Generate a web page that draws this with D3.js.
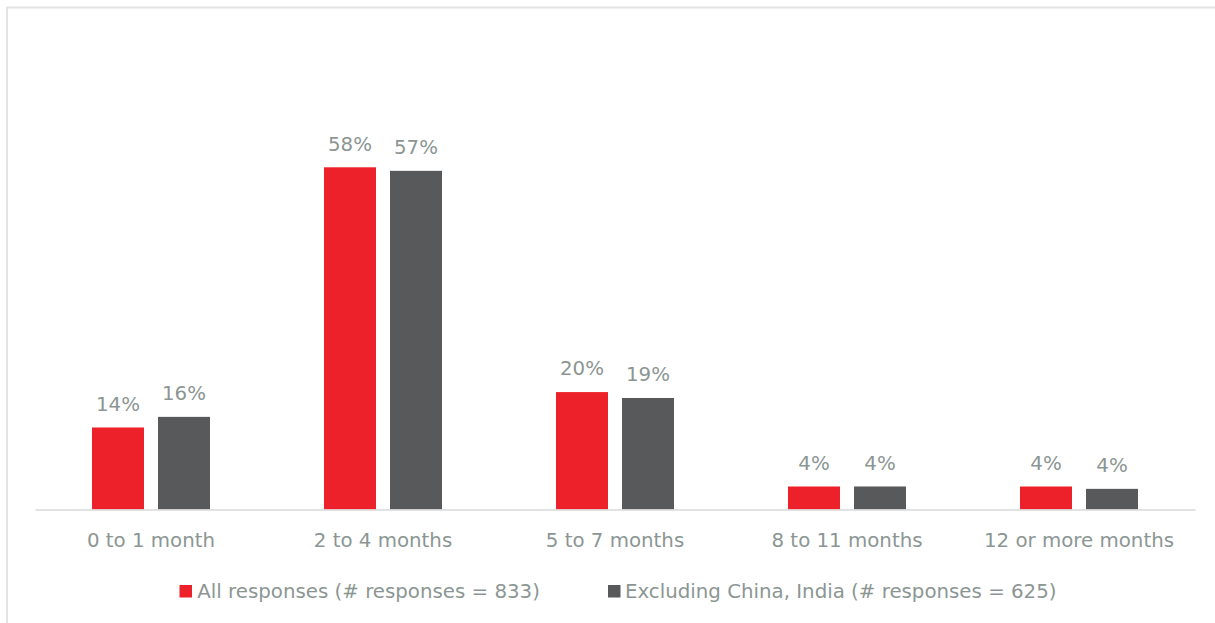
<!DOCTYPE html>
<html><head><meta charset="utf-8">
<script src="https://cdn.jsdelivr.net/npm/d3@7/dist/d3.min.js"></script>
<style>html,body{margin:0;padding:0;background:#fff;}svg{display:block;}</style>
</head><body>
<script>
const categories = ["0 to 1 month", "2 to 4 months", "5 to 7 months", "8 to 11 months", "12 or more months"];
const seriesNames = ["All responses (# responses = 833)", "Excluding China, India (# responses = 625)"];
const allResponses = [13.9, 58.0, 19.9, 3.9, 3.9];
const exclChinaIndia = [15.7, 57.4, 18.9, 3.9, 3.5];
const labelsAll = ["14%", "58%", "20%", "4%", "4%"];
const labelsExcl = ["16%", "57%", "19%", "4%", "4%"];
const colors = ["#ec2129", "#58595b"];

const W = 1215, H = 623;
const svg = d3.select("body").append("svg").attr("width", W).attr("height", H);

svg.append("rect").attr("x", 7).attr("y", 7.5).attr("width", 1400).attr("height", 800)
  .attr("fill", "none").attr("stroke", "#e3e3e3").attr("stroke-width", 2);

const x = d3.scaleBand().domain(categories).range([35, 1195]);
const y = d3.scaleLinear().domain([0, 70]).range([509.5, 96.5]);
const barW = 52, gap = 14;

const series = [allResponses, exclChinaIndia];
const labels = [labelsAll, labelsExcl];
const textColor = "#8b9693";
const font = "'DejaVu Sans', sans-serif";
const fs = 19.8;

series.forEach((vals, si) => {
  const off = si === 0 ? -(gap / 2 + barW) : gap / 2;
  const g = svg.append("g");
  g.selectAll("rect").data(vals).join("rect")
    .attr("x", (d, i) => x(categories[i]) + x.bandwidth() / 2 + off)
    .attr("y", d => y(d))
    .attr("width", barW)
    .attr("height", d => y(0) - y(d))
    .attr("fill", colors[si]);
  g.selectAll("text").data(vals).join("text")
    .attr("x", (d, i) => x(categories[i]) + x.bandwidth() / 2 + off + barW / 2)
    .attr("y", d => y(d) - 16.6)
    .attr("text-anchor", "middle")
    .attr("font-family", font).attr("font-size", fs)
    .attr("fill", textColor)
    .text((d, i) => labels[si][i]);
});

// baseline axis
const axis = svg.append("g").attr("transform", `translate(0,${y(0)})`)
  .call(d3.axisBottom(x).tickSize(0).tickPadding(0));
axis.select(".domain").attr("stroke", "#d9d9d9").attr("stroke-width", 1.5);
axis.selectAll("text")
  .attr("dy", 0).attr("y", 37.2)
  .attr("font-family", font).attr("font-size", fs)
  .attr("fill", textColor);

// legend
const legendItems = [{ sx: 179.5, tx: 197.3 }, { sx: 608, tx: 625 }];
legendItems.forEach((it, i) => {
  svg.append("rect").attr("x", it.sx).attr("y", 585).attr("width", 12.5).attr("height", 12.5)
    .attr("fill", colors[i]);
  svg.append("text").attr("x", it.tx).attr("y", 598.3)
    .attr("font-family", font).attr("font-size", fs)
    .attr("fill", textColor)
    .text(seriesNames[i]);
});
</script>
</body></html>
